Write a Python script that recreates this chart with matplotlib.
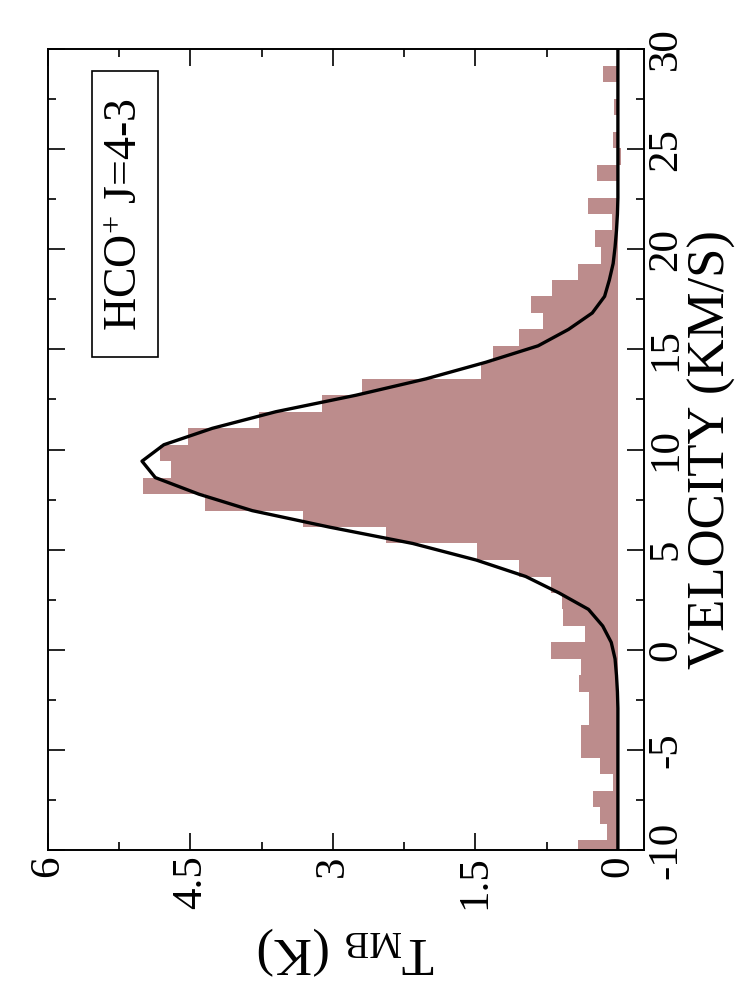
import numpy as np
import matplotlib
matplotlib.use('Agg')
import matplotlib.pyplot as plt
from matplotlib import ticker
from matplotlib.patches import Rectangle

# channel edges of the spectrum (km/s)
vel_edges = [-10.32, -9.50, -8.68, -7.86, -7.03, -6.21, -5.39, -4.56, -3.74, -2.92,
             -2.10, -1.27, -0.45, 0.37, 1.19, 2.02, 2.84, 3.66, 4.48, 5.31,
             6.13, 6.95, 7.77, 8.60, 9.42, 10.24, 11.06, 11.89, 12.71, 13.53,
             14.36, 15.18, 16.00, 16.82, 17.65, 18.47, 19.29, 20.11, 20.94, 21.76,
             22.58, 23.40, 24.23, 25.05, 25.87, 26.69, 27.52, 28.34, 29.16, 29.98,
             30.81]

# observed HCO+ J=4-3 brightness temperature per channel (K)
t_obs = [0.42, 0.12, 0.19, 0.26, 0.05, 0.19, 0.39, 0.39, 0.30, 0.30,
         0.41, 0.39, 0.70, 0.35, 0.58, 0.59, 0.70, 1.04, 1.48, 2.44,
         3.31, 4.35, 5.00, 4.70, 4.82, 4.53, 3.78, 3.12, 2.69, 1.44,
         1.31, 1.04, 0.79, 0.91, 0.69, 0.42, 0.18, 0.24, 0.06, 0.32,
         0.00, 0.22, -0.03, 0.05, 0.00, 0.04, 0.00, 0.16, 0.00, 0.08]

# gaussian fit, sampled at the channel edges
t_fit = [0.0, 0.0, 0.0, 0.0, 0.0, 0.0, 0.0, 0.0, 0.0, 0.0,
         0.005, 0.015, 0.03, 0.07, 0.16, 0.31, 0.62, 0.97, 1.49, 2.16,
         3.04, 3.85, 4.41, 4.87, 5.01, 4.78, 4.27, 3.60, 2.76, 2.02,
         1.39, 0.84, 0.52, 0.27, 0.14, 0.09, 0.05, 0.03, 0.015, 0.005,
         0.0, 0.0, 0.0, 0.0, 0.0, 0.0, 0.0, 0.0, 0.0, 0.0,
         0.0]

line_name = r'HCO$^{+}$ J=4-3'

plt.rcParams['font.family'] = ['Liberation Serif', 'DejaVu Serif']
plt.rcParams['mathtext.fontset'] = 'custom'
plt.rcParams['mathtext.rm'] = 'Liberation Serif'
plt.rcParams['mathtext.it'] = 'Liberation Serif:italic'
plt.rcParams['axes.unicode_minus'] = False

fig = plt.figure(figsize=(7.46, 10.01), dpi=100)
ax = fig.add_axes([0.0643, 0.1508, 0.799, 0.8002])

# the whole plot is turned on its side: temperature runs right-to-left,
# velocity runs upwards
ax.stairs(t_obs, vel_edges, orientation='horizontal', baseline=0,
          fill=True, color='#bc8c8c', linewidth=0)
ax.plot(t_fit, vel_edges, color='black', linewidth=2.4)

ax.set_xlim(6, -0.275)
ax.set_ylim(-10, 30)

ax.xaxis.set_major_locator(ticker.MultipleLocator(1.5))
ax.xaxis.set_minor_locator(ticker.MultipleLocator(0.75))
ax.xaxis.set_major_formatter(ticker.FormatStrFormatter('%g'))
ax.yaxis.set_major_locator(ticker.MultipleLocator(5))
ax.yaxis.set_minor_locator(ticker.MultipleLocator(2.5))

ax.tick_params(which='both', direction='in', top=True, bottom=True,
               left=True, right=True, width=1.2, labelsize=31)
ax.tick_params(which='major', length=12)
ax.tick_params(which='minor', length=6)
ax.tick_params(axis='x', labelrotation=90, pad=4)
ax.tick_params(axis='y', labelleft=False, labelright=True,
               labelrotation=90, pad=2)
for lab in ax.get_yticklabels():
    lab.set_verticalalignment('center')

for sp in ax.spines.values():
    sp.set_linewidth(1.4)

ax.set_xlabel(r'T$_{\rm MB}$ (K)', fontsize=38, rotation=180)
ax.xaxis.set_label_coords(0.5, -0.094)

ax.yaxis.set_label_position('right')
ax.set_ylabel('VELOCITY (KM/S)', fontsize=38, rotation=90)
ax.yaxis.set_label_coords(1.074, 0.5)

# line label in a frame
ax.add_patch(Rectangle((0.074, 0.6155), 0.1107, 0.357, transform=ax.transAxes,
                       facecolor='white', edgecolor='black', linewidth=1.2,
                       zorder=4))
ax.text(0.131, 0.794, line_name, transform=ax.transAxes, rotation=90,
        ha='center', va='center', fontsize=33, zorder=5)

fig.savefig('out.png', dpi=100)
